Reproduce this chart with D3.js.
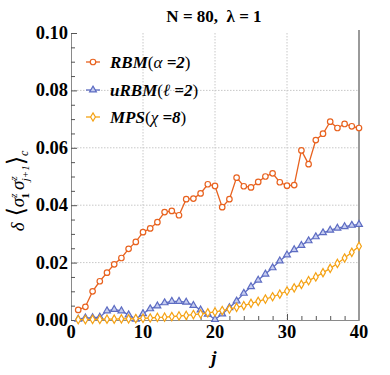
<!DOCTYPE html>
<html>
<head>
<meta charset="utf-8">
<script src="https://cdn.jsdelivr.net/npm/d3@7"></script>
<style>
  body { margin: 0; background: #fff; }
  svg { display: block; font-family: "Liberation Serif", "DejaVu Serif", serif; }
</style>
</head>
<body>
<svg id="chart"></svg>
<script>
let width = 390;
let height = 375;
let margin = { top: 33, right: 31, bottom: 55, left: 71 };

let jValues = d3.range(1, 41);

let rbmValues = [
    0.0035, 0.0046, 0.0100, 0.0135, 0.0165, 0.0194, 0.0216, 0.0248, 0.0272, 0.0306,
    0.0319, 0.0341, 0.0376, 0.0380, 0.0365, 0.0421, 0.0423, 0.0441, 0.0473, 0.0467,
    0.0393, 0.0421, 0.0496, 0.0466, 0.0462, 0.0481, 0.0500, 0.0511, 0.0480, 0.0468,
    0.0470, 0.0591, 0.0543, 0.0627, 0.0649, 0.0691, 0.0669, 0.0683, 0.0675, 0.0669
];
let urbmValues = [
    0.0003, 0.0007, 0.0008, 0.0010, 0.0032, 0.0037, 0.0032, 0.0018, 0.0003, 0.0022,
    0.0039, 0.0049, 0.0060, 0.0065, 0.0065, 0.0062, 0.0051, 0.0035, 0.0020, 0.0002,
    0.0021, 0.0043, 0.0066, 0.0093, 0.0116, 0.0139, 0.0160, 0.0182, 0.0206, 0.0227,
    0.0245, 0.0260, 0.0276, 0.0290, 0.0304, 0.0313, 0.0320, 0.0325, 0.0330, 0.0333
];
let mpsValues = [
    0.0001, 0.0001, 0.0002, 0.0002, 0.0003, 0.0003, 0.0004, 0.0004, 0.0005, 0.0006,
    0.0007, 0.0009, 0.0010, 0.0012, 0.0014, 0.0016, 0.0019, 0.0021, 0.0025, 0.0028,
    0.0033, 0.0038, 0.0044, 0.0050, 0.0058, 0.0065, 0.0073, 0.0081, 0.0090, 0.0101,
    0.0112, 0.0124, 0.0137, 0.0150, 0.0165, 0.0180, 0.0197, 0.0216, 0.0236, 0.0257
];

let xTicks = [0, 10, 20, 30, 40];
let yTicks = [0, 0.02, 0.04, 0.06, 0.08, 0.10];

let series = [
    { name: 'RBM', values: rbmValues, color: '#e8621f', shape: d3.symbolCircle, fill: '#fff', size: 24 },
    { name: 'uRBM', values: urbmValues, color: '#5d6cc2', shape: d3.symbolTriangle, fill: '#c6cdf0', size: 20 },
    { name: 'MPS', values: mpsValues, color: '#f5a214', shape: d3.symbolDiamond, fill: '#fff', size: 20 }
];

let svg = d3.select('#chart').attr('width', width).attr('height', height);

let xScale = d3.scaleLinear().domain([0, 40]).range([margin.left, width - margin.right]);
let yScale = d3.scaleLinear().domain([0, 0.1]).range([height - margin.bottom, margin.top]);

let plotBottom = height - margin.bottom;
let plotRight = width - margin.right;

// grid
svg.append('g')
    .selectAll('line')
    .data([10, 20, 30])
    .join('line')
    .attr('x1', (d) => xScale(d)).attr('x2', (d) => xScale(d))
    .attr('y1', margin.top).attr('y2', plotBottom)
    .attr('stroke', '#c8c8c8').attr('stroke-dasharray', '1.5,1.5');
svg.append('g')
    .selectAll('line')
    .data([0.02, 0.04, 0.06, 0.08])
    .join('line')
    .attr('x1', margin.left).attr('x2', plotRight)
    .attr('y1', (d) => yScale(d)).attr('y2', (d) => yScale(d))
    .attr('stroke', '#c8c8c8').attr('stroke-dasharray', '1.5,1.5');

// axes (ticks pointing inward)
let xAxis = d3.axisTop(xScale).tickValues(d3.range(0, 41, 2)).tickSize(4).tickFormat('');
let yAxis = d3.axisRight(yScale).tickValues(d3.range(0, 0.1001, 0.005)).tickSize(4).tickFormat('');

let gx = svg.append('g').attr('transform', `translate(0, ${plotBottom})`).call(xAxis);
let gy = svg.append('g').attr('transform', `translate(${margin.left}, 0)`).call(yAxis);
[gx, gy].forEach((g) => {
    g.select('.domain').attr('stroke', '#8a8a8a');
    g.selectAll('.tick line').attr('stroke', '#555');
});
gx.selectAll('.tick line').attr('y2', (d) => (d % 10 === 0 ? -6 : -4));
gy.selectAll('.tick line').attr('x2', (d) => (Math.abs(d / 0.02 - Math.round(d / 0.02)) < 1e-6 ? 6 : 4));

// right frame
svg.append('line')
    .attr('x1', plotRight).attr('x2', plotRight)
    .attr('y1', margin.top - 3).attr('y2', plotBottom)
    .attr('stroke', '#9a9a9a').attr('stroke-width', 2);

// tick labels
svg.append('g')
    .selectAll('text')
    .data(xTicks)
    .join('text')
    .attr('x', (d) => xScale(d))
    .attr('y', plotBottom + 18)
    .attr('text-anchor', 'middle')
    .attr('font-size', 18.5).attr('font-weight', 'bold')
    .text((d) => d);
svg.append('g')
    .selectAll('text')
    .data(yTicks)
    .join('text')
    .attr('x', margin.left - 3)
    .attr('y', (d) => yScale(d) + 6)
    .attr('text-anchor', 'end')
    .attr('font-size', 18.5).attr('font-weight', 'bold')
    .text((d) => d3.format('.2f')(d));

// lines and markers
let line = d3.line()
    .x((d, i) => xScale(jValues[i]))
    .y((d) => yScale(d));

series.forEach((s) => {
    let g = svg.append('g');
    g.append('path')
        .datum(s.values)
        .attr('d', line)
        .attr('fill', 'none')
        .attr('stroke', s.color)
        .attr('stroke-width', 1.3);
    g.selectAll('path.pt')
        .data(s.values)
        .join('path')
        .attr('class', 'pt')
        .attr('d', d3.symbol().type(s.shape).size(s.size))
        .attr('transform', (d, i) => `translate(${xScale(jValues[i])}, ${yScale(d)})`)
        .attr('fill', s.fill)
        .attr('stroke', s.color)
        .attr('stroke-width', 1.2);
});

// legend
let legendRows = [
    { y: 62, parts: [['RBM', 'bi'], ['(', 'r'], ['α', 'i'], [' =2', 'bi'], [')', 'r']] },
    { y: 90, parts: [['uRBM', 'bi'], ['(', 'r'], ['ℓ', 'i'], [' =2', 'bi'], [')', 'r']] },
    { y: 117, parts: [['MPS', 'bi'], ['(', 'r'], ['χ', 'i'], [' =8', 'bi'], [')', 'r']] }
];
legendRows.forEach((row, k) => {
    let s = series[k];
    svg.append('line')
        .attr('x1', 86).attr('x2', 100)
        .attr('y1', row.y).attr('y2', row.y)
        .attr('stroke', s.color).attr('stroke-width', 1.3);
    svg.append('path')
        .attr('d', d3.symbol().type(s.shape).size(s.size))
        .attr('transform', `translate(93, ${row.y})`)
        .attr('fill', s.fill).attr('stroke', s.color).attr('stroke-width', 1.2);
    let t = svg.append('text')
        .attr('x', 110).attr('y', row.y + 6)
        .attr('font-size', 17);
    row.parts.forEach((p) => {
        t.append('tspan')
            .attr('font-weight', p[1] === 'bi' ? 'bold' : 'normal')
            .attr('font-style', p[1] === 'r' ? 'normal' : 'italic')
            .text(p[0]);
    });
});

// title
svg.append('text')
    .attr('x', 214).attr('y', 22)
    .attr('text-anchor', 'middle')
    .style('white-space', 'pre')
    .attr('font-size', 17).attr('font-weight', 'bold')
    .text('N = 80,  λ = 1');

// x label
svg.append('text')
    .attr('x', 214).attr('y', 364)
    .attr('text-anchor', 'middle')
    .attr('font-size', 19).attr('font-weight', 'bold').attr('font-style', 'italic')
    .text('j');

// y label
let yl = svg.append('text')
    .attr('transform', 'translate(24, 191) rotate(-90)')
    .attr('text-anchor', 'middle')
    .attr('font-size', 19);
yl.append('tspan').attr('font-style', 'italic').text('δ');
yl.append('tspan').attr('font-size', 24).text(' ⟨');
yl.append('tspan').attr('font-style', 'italic').text('σ');
yl.append('tspan').attr('font-size', 11).attr('font-style', 'italic').attr('dy', -7).text('z');
yl.append('tspan').attr('font-size', 11).attr('font-weight', 'bold').attr('dx', -5).attr('dy', 12).text('1');
yl.append('tspan').attr('font-style', 'italic').attr('dx', 3).attr('dy', -5).text('σ');
yl.append('tspan').attr('font-size', 11).attr('font-style', 'italic').attr('dy', -7).text('z');
yl.append('tspan').attr('font-size', 11).attr('font-style', 'italic').attr('dx', -5).attr('dy', 12).text('j+1');
yl.append('tspan').attr('font-size', 24).attr('dy', -5).text('⟩');
yl.append('tspan').attr('font-size', 12).attr('font-style', 'italic').attr('dy', 4).text('c');
</script>
</body>
</html>
